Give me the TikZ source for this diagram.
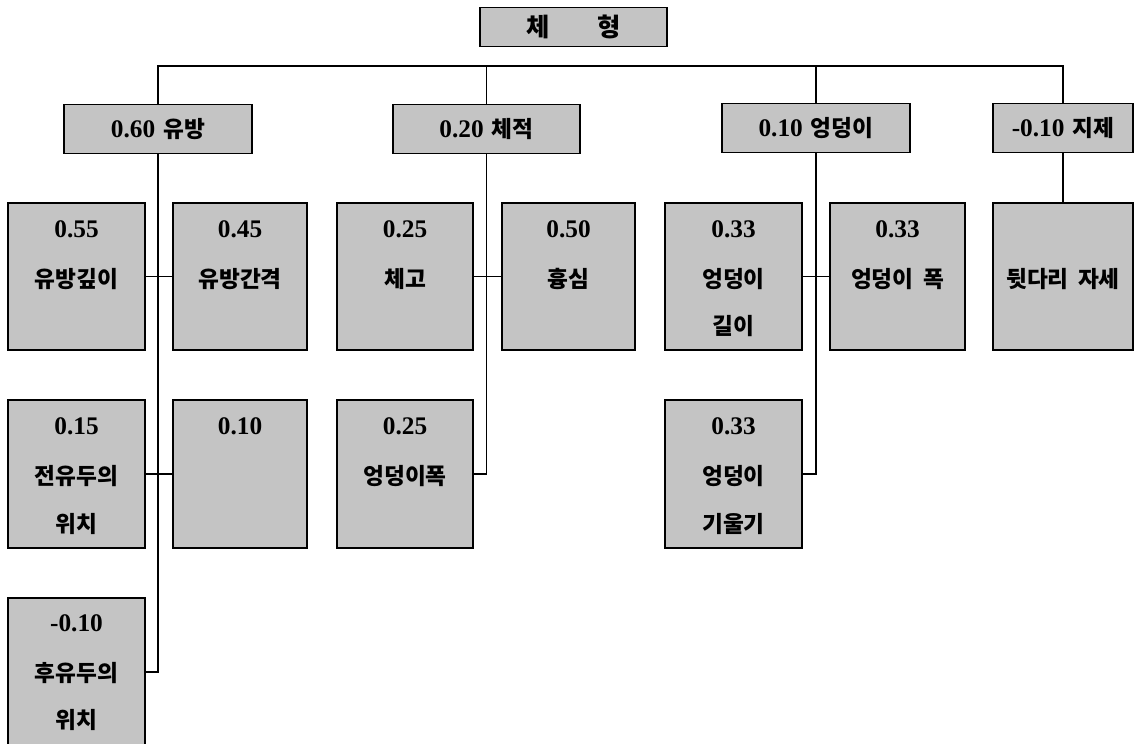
\documentclass[tikz,border=0pt]{standalone}
\usepackage{fontspec}
\setmainfont{Liberation Serif}
\newfontfamily\kr{Noto Sans CJK KR}
\definecolor{boxgray}{RGB}{196,196,196}
\tikzset{
  box/.style={draw=black, line width=1pt, fill=boxgray, inner sep=0pt},
  num/.style={font=\fontsize{19}{21}\selectfont\bfseries, inner sep=0pt},
  kor/.style={font=\fontsize{17}{19}\selectfont\kr\bfseries, inner sep=0pt},
  lbl/.style={font=\fontsize{19}{21}\selectfont\bfseries, inner sep=0pt},
  link/.style={draw=black, line width=1pt}
}
\newcommand\mybox[5]{\node[box, minimum width=#4*0.75pt, minimum height=#5*0.75pt] (#1) at (#2,#3) {};}
\begin{document}
\begin{tikzpicture}[x=0.75pt,y=-0.75pt]
\useasboundingbox (0,0) rectangle (1135,743);
% top
\mybox{top}{573.5}{27}{187}{39}
\node[kor, font=\fontsize{19}{21}\selectfont\kr\bfseries] (toptxt) at (top.center) {체\hspace{36pt}형};
% level 2
\mybox{b1}{158}{129}{188}{49}
\mybox{b2}{486.5}{129}{187}{49}
\mybox{b3}{816}{128}{188}{49}
\mybox{b4}{1063}{128}{140}{49}
\node[lbl] (b1t) at (b1.center) {0.60\hspace{6pt}{\kr\fontsize{17}{19}\selectfont 유방}};
\node[lbl] (b2t) at (b2.center) {0.20\hspace{6pt}{\kr\fontsize{17}{19}\selectfont 체적}};
\node[lbl] (b3t) at (b3.center) {0.10\hspace{6pt}{\kr\fontsize{17}{19}\selectfont 엉덩이}};
\node[lbl] (b4t) at (b4.center) {-0.10\hspace{6pt}{\kr\fontsize{17}{19}\selectfont 지제}};
% level 3 boxes
\mybox{a1}{76.5}{276.5}{137}{147}
\mybox{a2}{240}{276.5}{134}{147}
\mybox{a3}{76.5}{474}{137}{148}
\mybox{a4}{240}{474}{134}{148}
\mybox{a5}{76.5}{672}{137}{148}
\mybox{c1}{405}{276.5}{136}{147}
\mybox{c2}{568.5}{276.5}{133}{147}
\mybox{c3}{405}{474}{136}{148}
\mybox{d1}{733.5}{276.5}{137}{147}
\mybox{d2}{897.5}{276.5}{135}{147}
\mybox{d3}{733.5}{474}{137}{148}
\mybox{e1}{1063}{276.5}{140}{147}
% texts
\node[num] (a1n) at (76.5,229) {0.55};
\node[kor] (a1k) at (76.5,279) {유방깊이};
\node[num] (a2n) at (240,229) {0.45};
\node[kor] (a2k) at (240,279) {유방간격};
\node[num] (a3n) at (76.5,426) {0.15};
\node[kor] (a3k) at (76.5,476) {전유두의};
\node[kor] (a3l) at (76.5,524) {위치};
\node[num] (a4n) at (240,426) {0.10};
\node[num] (a5n) at (76.5,623) {-0.10};
\node[kor] (a5k) at (76.5,673) {후유두의};
\node[kor] (a5l) at (76.5,720) {위치};
\node[num] (c1n) at (405,229) {0.25};
\node[kor] (c1k) at (405,279) {체고};
\node[num] (c2n) at (568.5,229) {0.50};
\node[kor] (c2k) at (568.5,279) {흉심};
\node[num] (c3n) at (405,426) {0.25};
\node[kor] (c3k) at (405,476) {엉덩이폭};
\node[num] (d1n) at (733.5,229) {0.33};
\node[kor] (d1k) at (733.5,279) {엉덩이};
\node[kor] (d1l) at (733.5,326) {길이};
\node[num] (d2n) at (897.5,229) {0.33};
\node[kor] (d2k) at (897.5,279) {엉덩이\hspace{7pt}폭};
\node[num] (d3n) at (733.5,426) {0.33};
\node[kor] (d3k) at (733.5,476) {엉덩이};
\node[kor] (d3l) at (733.5,524) {기울기};
\node[kor] (e1k) at (1063,279) {뒷다리\hspace{7pt}자세};
% connectors
\coordinate (hl) at (0,66);
\draw[link] (b1.north) -- (b1.north |- hl) -- (b4.north |- hl) -- (b4.north);
\draw[link] (b2.north) -- (b2.north |- hl);
\draw[link] (b3.north) -- (b3.north |- hl);
\draw[link] (b1.south) |- (a5.east);
\draw[link] (a1.east) -- (a2.west);
\draw[link] (a3.east) -- (a4.west);
\draw[link] (b2.south) |- (c3.east);
\draw[link] (c1.east) -- (c2.west);
\draw[link] (b3.south) |- (d3.east);
\draw[link] (d1.east) -- (d2.west);
\draw[link] (b4.south) -- (e1.north);
\end{tikzpicture}
\end{document}
